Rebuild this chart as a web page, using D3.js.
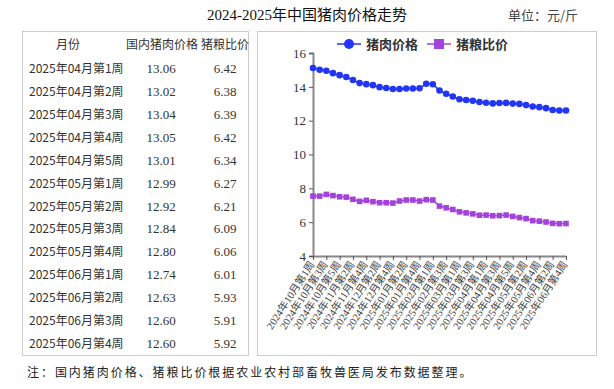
<!DOCTYPE html>
<html>
<head>
<meta charset="utf-8">
<script src="https://cdn.jsdelivr.net/npm/d3@7"></script>
<style>
  body { margin: 0; background: #fff; }
  svg { display: block; }
</style>
</head>
<body>
<svg width="614" height="389"></svg>
<script>
// weekly labels, 2024-10 wk1 .. 2025-06 wk4
const weeks = [
  "2024年10月第1周","2024年10月第2周","2024年10月第3周","2024年10月第4周","2024年10月第5周",
  "2024年11月第1周","2024年11月第2周","2024年11月第3周","2024年11月第4周",
  "2024年12月第1周","2024年12月第2周","2024年12月第3周","2024年12月第4周",
  "2025年01月第1周","2025年01月第2周","2025年01月第3周","2025年01月第4周","2025年01月第5周",
  "2025年02月第1周","2025年02月第2周","2025年02月第3周","2025年02月第4周",
  "2025年03月第1周","2025年03月第2周","2025年03月第3周","2025年03月第4周",
  "2025年04月第1周","2025年04月第2周","2025年04月第3周","2025年04月第4周","2025年04月第5周",
  "2025年05月第1周","2025年05月第2周","2025年05月第3周","2025年05月第4周",
  "2025年06月第1周","2025年06月第2周","2025年06月第3周","2025年06月第4周"
];

const porkPrice = [
  15.11, 15.01, 14.95, 14.81, 14.69, 14.58, 14.40, 14.22, 14.16, 14.10,
  13.98, 13.93, 13.87, 13.87, 13.90, 13.90, 13.92, 14.18, 14.15, 13.78,
  13.59, 13.43, 13.27, 13.22, 13.18, 13.10,
  13.06, 13.02, 13.04, 13.05, 13.01, 12.99, 12.92, 12.84, 12.80, 12.74, 12.63, 12.60, 12.60
];

const hogGrainRatio = [
  7.54, 7.54, 7.64, 7.57, 7.50, 7.48, 7.35, 7.23, 7.29, 7.21,
  7.15, 7.15, 7.13, 7.25, 7.31, 7.31, 7.25, 7.33, 7.31, 6.95,
  6.85, 6.75, 6.61, 6.55, 6.49, 6.41,
  6.42, 6.38, 6.39, 6.42, 6.34, 6.27, 6.21, 6.09, 6.06, 6.01, 5.93, 5.91, 5.92
];

// table shows the last 13 weeks
const tableStart = 26;
const tableHeader = ["月份", "国内猪肉价格", "猪粮比价"];

const yTicks = [4, 6, 8, 10, 12, 14, 16];

const serif = "'Liberation Serif', 'Noto Sans CJK SC', serif";
const sans = "'Noto Sans CJK SC', sans-serif";

const svg = d3.select("svg");

// title
svg.append("text")
  .attr("x", 307).attr("y", 20)
  .attr("text-anchor", "middle")
  .style("font-family", serif)
  .style("font-size", "15px")
  .style("fill", "#111")
  .text("2024-2025年中国猪肉价格走势");

svg.append("text")
  .attr("x", 578).attr("y", 20)
  .attr("text-anchor", "end")
  .style("font-family", sans)
  .style("font-size", "13px")
  .style("fill", "#444")
  .text("单位：元/斤");

// boxes
svg.append("rect")
  .attr("x", 22.5).attr("y", 31.5).attr("width", 226).attr("height", 324)
  .attr("fill", "none").attr("stroke", "#ccc");
svg.append("rect")
  .attr("x", 257.5).attr("y", 31.5).attr("width", 339).attr("height", 324)
  .attr("fill", "none").attr("stroke", "#ccc");

// ---- table ----
const tbl = svg.append("g")
  .style("fill", "#333");

const colX = [68, 162, 225];
tableHeader.forEach((h, i) => {
  tbl.append("text")
    .attr("x", colX[i]).attr("y", 49)
    .attr("text-anchor", "middle")
    .style("font-family", sans)
    .style("font-size", "12px")
    .text(h);
});

const rows = weeks.slice(tableStart).map((w, i) => ({
  week: w,
  price: porkPrice[tableStart + i],
  ratio: hogGrainRatio[tableStart + i]
}));

const rowY = d3.scaleLinear().domain([0, 12]).range([73, 348]);

const row = tbl.selectAll("g.row")
  .data(rows)
  .enter()
  .append("g")
  .attr("class", "row")
  .attr("transform", (d, i) => `translate(0,${rowY(i)})`);

row.append("text")
  .attr("x", 29)
  .style("font-family", sans)
  .style("font-size", "12px")
  .text(d => d.week);
row.append("text")
  .attr("x", colX[1] - 1).attr("text-anchor", "middle")
  .style("font-family", serif)
  .style("font-size", "13px")
  .text(d => d.price.toFixed(2));
row.append("text")
  .attr("x", colX[2]).attr("text-anchor", "middle")
  .style("font-family", serif)
  .style("font-size", "13px")
  .text(d => d.ratio.toFixed(2));

// ---- chart ----
const x = d3.scalePoint()
  .domain(weeks)
  .range([313, 566]);

const y = d3.scaleLinear()
  .domain([4, 16])
  .range([256, 53]);

const axisColor = "#888";

const yAxis = svg.append("g")
  .attr("transform", "translate(313,0)")
  .call(d3.axisLeft(y).tickValues(yTicks).tickSize(4).tickPadding(3));
yAxis.select(".domain").attr("stroke", axisColor).attr("stroke-width", 2);
yAxis.selectAll(".tick line").attr("stroke", "#555");
yAxis.selectAll("text")
  .style("font-family", serif)
  .style("font-size", "13px")
  .style("fill", "#333");

const xAxis = svg.append("g")
  .attr("transform", "translate(0,256)")
  .call(d3.axisBottom(x)
    .tickValues(weeks.filter((d, i) => i % 2 === 0))
    .tickSize(4)
    .tickSizeOuter(0));
xAxis.select(".domain").attr("stroke", axisColor).attr("stroke-width", 2);
xAxis.selectAll(".tick line").attr("stroke", "#555");
xAxis.selectAll("text")
  .style("font-family", serif)
  .style("font-size", "10.5px")
  .style("fill", "#444")
  .attr("text-anchor", "end")
  .attr("dx", "0")
  .attr("dy", "0.35em")
  .attr("transform", "rotate(-57)")
  .attr("y", 2)
  .attr("x", -6);

const series = [
  { name: "猪肉价格", values: porkPrice, color: "#2235f5", marker: "circle" },
  { name: "猪粮比价", values: hogGrainRatio, color: "#a443dc", marker: "square" }
];

const line = d3.line()
  .x((d, i) => x(weeks[i]))
  .y(d => y(d));

series.forEach(s => {
  const g = svg.append("g");
  g.append("path")
    .datum(s.values)
    .attr("d", line)
    .attr("fill", "none")
    .attr("stroke", s.color)
    .attr("stroke-width", 1.5);

  if (s.marker === "circle") {
    g.selectAll("circle")
      .data(s.values)
      .enter()
      .append("circle")
      .attr("cx", (d, i) => x(weeks[i]))
      .attr("cy", d => y(d))
      .attr("r", 3.3)
      .attr("fill", s.color);
  } else {
    g.selectAll("rect")
      .data(s.values)
      .enter()
      .append("rect")
      .attr("x", (d, i) => x(weeks[i]) - 2.8)
      .attr("y", d => y(d) - 2.8)
      .attr("width", 5.6)
      .attr("height", 5.6)
      .attr("fill", s.color);
  }
});

// legend
const legend = svg.append("g");
const legendX = [337, 427];
series.forEach((s, i) => {
  const lg = legend.append("g").attr("transform", `translate(${legendX[i]},44)`);
  lg.append("line")
    .attr("x1", 0).attr("x2", 24)
    .attr("stroke", s.color).attr("stroke-width", 1.5);
  if (s.marker === "circle") {
    lg.append("circle").attr("cx", 12).attr("r", 5).attr("fill", s.color);
  } else {
    lg.append("rect").attr("x", 7).attr("y", -5).attr("width", 10).attr("height", 10)
      .attr("fill", s.color);
  }
  lg.append("text")
    .attr("x", 29).attr("y", 5)
    .style("font-family", sans)
    .style("font-size", "13px")
    .style("font-weight", "bold")
    .style("fill", "#333")
    .text(s.name);
});

// footnote
svg.append("text")
  .attr("x", 27).attr("y", 377)
  .style("font-family", sans)
  .style("font-size", "12px")
  .style("letter-spacing", "1.95px")
  .style("fill", "#222")
  .text("注：国内猪肉价格、猪粮比价根据农业农村部畜牧兽医局发布数据整理。");
</script>
</body>
</html>
